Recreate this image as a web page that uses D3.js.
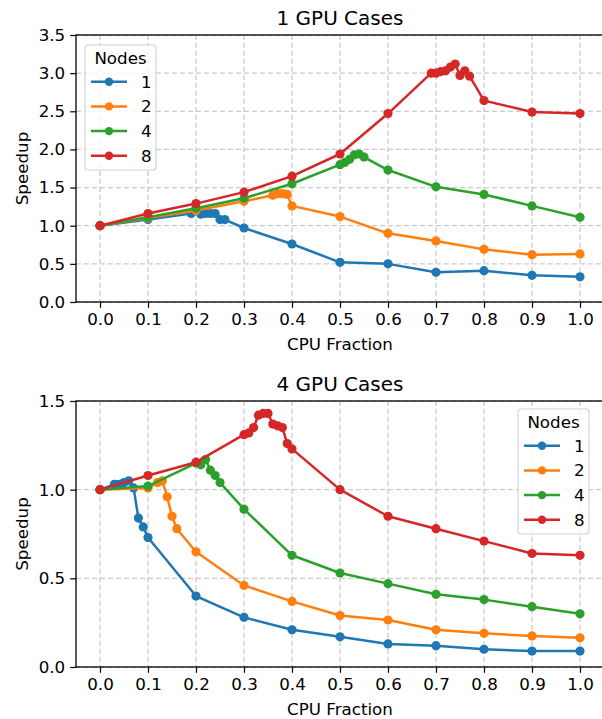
<!DOCTYPE html>
<html>
<head>
<meta charset="utf-8">
<script src="https://cdn.jsdelivr.net/npm/d3@7"></script>
<style>
  body { margin: 0; background: #fff; }
  svg { display: block; font-family: "DejaVu Sans", sans-serif; }
</style>
</head>
<body>
<svg id="chart" width="602" height="719"></svg>
<script>
const nodes = ["1", "2", "4", "8"];
const colors = ["#1f77b4", "#ff7f0e", "#2ca02c", "#d62728"];
const xTicks = [0, 0.1, 0.2, 0.3, 0.4, 0.5, 0.6, 0.7, 0.8, 0.9, 1.0];

// 1 GPU
const g1n1x = [0, 0.1, 0.19, 0.2, 0.21, 0.22, 0.23, 0.24, 0.25, 0.26, 0.3, 0.4, 0.5, 0.6, 0.7, 0.8, 0.9, 1.0];
const g1n1y = [1.0, 1.08, 1.16, 1.23, 1.15, 1.16, 1.16, 1.16, 1.08, 1.08, 0.97, 0.76, 0.52, 0.50, 0.39, 0.41, 0.35, 0.33];
const g1n2x = [0, 0.1, 0.2, 0.3, 0.36, 0.37, 0.38, 0.39, 0.4, 0.5, 0.6, 0.7, 0.8, 0.9, 1.0];
const g1n2y = [1.0, 1.10, 1.20, 1.32, 1.40, 1.42, 1.42, 1.41, 1.26, 1.12, 0.90, 0.80, 0.69, 0.62, 0.63];
const g1n4x = [0, 0.1, 0.2, 0.3, 0.4, 0.5, 0.51, 0.52, 0.53, 0.54, 0.55, 0.6, 0.7, 0.8, 0.9, 1.0];
const g1n4y = [1.0, 1.11, 1.23, 1.36, 1.55, 1.80, 1.83, 1.87, 1.93, 1.94, 1.90, 1.73, 1.51, 1.41, 1.26, 1.11];
const g1n8x = [0, 0.1, 0.2, 0.3, 0.4, 0.5, 0.6, 0.69, 0.7, 0.71, 0.72, 0.73, 0.74, 0.75, 0.76, 0.77, 0.8, 0.9, 1.0];
const g1n8y = [1.0, 1.16, 1.29, 1.44, 1.65, 1.94, 2.47, 3.0, 3.0, 3.02, 3.03, 3.08, 3.12, 2.97, 3.03, 2.96, 2.64, 2.49, 2.47];

// 4 GPU
const g4n1x = [0, 0.03, 0.04, 0.05, 0.06, 0.07, 0.08, 0.09, 0.1, 0.2, 0.3, 0.4, 0.5, 0.6, 0.7, 0.8, 0.9, 1.0];
const g4n1y = [1.0, 1.03, 1.03, 1.04, 1.05, 1.01, 0.84, 0.79, 0.73, 0.40, 0.28, 0.21, 0.17, 0.13, 0.12, 0.10, 0.09, 0.09];
const g4n2x = [0, 0.1, 0.12, 0.13, 0.14, 0.15, 0.16, 0.2, 0.3, 0.4, 0.5, 0.6, 0.7, 0.8, 0.9, 1.0];
const g4n2y = [1.0, 1.01, 1.04, 1.05, 0.96, 0.85, 0.78, 0.65, 0.46, 0.37, 0.29, 0.265, 0.21, 0.19, 0.175, 0.165];
const g4n4x = [0, 0.1, 0.2, 0.21, 0.22, 0.23, 0.24, 0.25, 0.3, 0.4, 0.5, 0.6, 0.7, 0.8, 0.9, 1.0];
const g4n4y = [1.0, 1.02, 1.15, 1.14, 1.17, 1.11, 1.08, 1.04, 0.89, 0.63, 0.53, 0.47, 0.41, 0.38, 0.34, 0.30];
const g4n8x = [0, 0.1, 0.2, 0.3, 0.31, 0.32, 0.33, 0.34, 0.35, 0.36, 0.37, 0.38, 0.39, 0.4, 0.5, 0.6, 0.7, 0.8, 0.9, 1.0];
const g4n8y = [1.0, 1.08, 1.155, 1.31, 1.32, 1.35, 1.42, 1.43, 1.43, 1.37, 1.36, 1.35, 1.26, 1.23, 1.0, 0.85, 0.78, 0.71, 0.64, 0.63];

const panels = [
  { title: "1 GPU Cases", top: 35, bottom: 302, ymax: 3.5, yTicks: [0, 0.5, 1.0, 1.5, 2.0, 2.5, 3.0, 3.5],
    xs: [g1n1x, g1n2x, g1n4x, g1n8x], ys: [g1n1y, g1n2y, g1n4y, g1n8y], legend: [85, 45] },
  { title: "4 GPU Cases", top: 401, bottom: 667, ymax: 1.5, yTicks: [0, 0.5, 1.0, 1.5],
    xs: [g4n1x, g4n2x, g4n4x, g4n8x], ys: [g4n1y, g4n2y, g4n4y, g4n8y], legend: [518, 409] }
];

const svg = d3.select("#chart");
const left = 76, right = 604;
const fs = 16.7;

panels.forEach(p => {
  const x = d3.scaleLinear().domain([-0.05, 1.05]).range([left, right]);
  const y = d3.scaleLinear().domain([0, p.ymax]).range([p.bottom, p.top]);
  const g = svg.append("g");

  // grid
  g.selectAll(".gx").data(xTicks).enter().append("line")
    .attr("x1", d => x(d)).attr("x2", d => x(d))
    .attr("y1", p.top).attr("y2", p.bottom)
    .attr("stroke", "#cbcbcb").attr("stroke-width", 1.3).attr("stroke-dasharray", "5,3");
  g.selectAll(".gy").data(p.yTicks).enter().append("line")
    .attr("x1", left).attr("x2", right)
    .attr("y1", d => y(d)).attr("y2", d => y(d))
    .attr("stroke", "#cbcbcb").attr("stroke-width", 1.3).attr("stroke-dasharray", "5,3");

  // axes
  const xAxis = g.append("g").attr("transform", `translate(0,${p.bottom})`)
    .call(d3.axisBottom(x).tickValues(xTicks).tickFormat(d3.format(".1f")).tickSize(5.8).tickPadding(5));
  const yAxis = g.append("g").attr("transform", `translate(${left},0)`)
    .call(d3.axisLeft(y).tickValues(p.yTicks).tickFormat(d3.format(".1f")).tickSize(5.8).tickPadding(5));
  [xAxis, yAxis].forEach(a => {
    a.select(".domain").remove();
    a.selectAll("text").attr("font-size", fs).attr("font-family", "DejaVu Sans").attr("fill", "#000");
    a.selectAll("line").attr("stroke", "#000").attr("stroke-width", 1.2);
  });

  // spines
  g.append("rect").attr("x", left).attr("y", p.top)
    .attr("width", right - left).attr("height", p.bottom - p.top)
    .attr("fill", "none").attr("stroke", "#000").attr("stroke-width", 1.3);

  // series
  const line = d3.line().x(d => x(d[0])).y(d => y(d[1]));
  nodes.forEach((n, i) => {
    const pts = p.xs[i].map((v, j) => [v, p.ys[i][j]]);
    g.append("path").datum(pts)
      .attr("fill", "none").attr("stroke", colors[i]).attr("stroke-width", 2.5)
      .attr("stroke-linejoin", "round").attr("d", line);
    g.selectAll(".pt" + i).data(pts).enter().append("circle")
      .attr("cx", d => x(d[0])).attr("cy", d => y(d[1])).attr("r", 4.6)
      .attr("fill", colors[i]);
  });

  // titles and labels
  g.append("text").attr("x", (left + right) / 2).attr("y", p.top - 10)
    .attr("text-anchor", "middle").attr("font-size", 20).text(p.title);
  g.append("text").attr("x", (left + right) / 2).attr("y", p.bottom + 48)
    .attr("text-anchor", "middle").attr("font-size", fs).text("CPU Fraction");
  g.append("text").attr("transform", `translate(28,${(p.top + p.bottom) / 2}) rotate(-90)`)
    .attr("text-anchor", "middle").attr("font-size", fs).text("Speedup");

  // legend
  const [lx, ly] = p.legend;
  const lg = g.append("g").attr("transform", `translate(${lx},${ly})`);
  lg.append("rect").attr("width", 71).attr("height", 125).attr("rx", 3)
    .attr("fill", "#fff").attr("fill-opacity", 0.8).attr("stroke", "#d0d0d0").attr("stroke-width", 1.1);
  lg.append("text").attr("x", 35.5).attr("y", 19).attr("text-anchor", "middle")
    .attr("font-size", fs).text("Nodes");
  nodes.forEach((n, i) => {
    const yy = 36.7 + i * 24.7;
    lg.append("line").attr("x1", 6).attr("x2", 42).attr("y1", yy).attr("y2", yy)
      .attr("stroke", colors[i]).attr("stroke-width", 2.5);
    lg.append("circle").attr("cx", 24).attr("cy", yy).attr("r", 4.2).attr("fill", colors[i]);
    lg.append("text").attr("x", 56).attr("y", yy + 6).attr("font-size", fs).text(n);
  });
});
</script>
</body>
</html>
